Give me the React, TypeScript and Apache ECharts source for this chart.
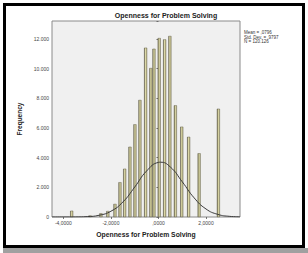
import React, { useEffect, useRef } from "react";
import * as echarts from "echarts";

const binCenters = [-3.65, -2.88, -2.42, -2.13, -1.83, -1.62, -1.42, -1.2, -0.99, -0.78, -0.54, -0.32, -0.19, 0.03, 0.26, 0.48, 0.71, 0.98, 1.27, 1.71, 2.52];
const frequencies = [420, 100, 250, 400, 880, 2340, 3250, 4730, 6240, 7880, 11400, 10030, 11330, 12050, 11960, 12190, 7520, 6080, 5400, 4290, 7290];
const curveX = [-4.48, -4, -3.5, -3, -2.5, -2, -1.5, -1, -0.5, 0, 0.08, 0.5, 1, 1.5, 2, 2.5, 3, 3.43];
const curveY = [0, 1, 5, 27, 116, 389, 1006, 2015, 3098, 3678, 3690, 3366, 2372, 1290, 540, 175, 43, 10];
const xTicks = [-4, -2, 0, 2];
const statLines = ["Mean = ,0796", "Std. Dev. = ,9797", "N = 120.126"];
const titleText = "Openness for Problem Solving";

export default function App() {
  const ref = useRef<HTMLDivElement>(null);
  useEffect(() => {
    document.body.style.margin = "0";
    const chart = echarts.init(ref.current!, null, { renderer: "svg" });
    const fontFamily = "Liberation Sans, Arial, sans-serif";
    chart.setOption({
      animation: false,
      backgroundColor: "#ffffff",
      grid: { left: 52, top: 21, width: 188, height: 196, show: true, backgroundColor: "#f0f0f0", borderColor: "#8a8a8a", borderWidth: 1 },
      xAxis: {
        type: "value",
        min: -4.48,
        max: 3.43,
        name: titleText,
        nameLocation: "middle",
        nameGap: 14,
        nameTextStyle: { fontSize: 6.8, fontWeight: "bold", color: "#222", fontFamily },
        axisLine: { show: false },
        splitLine: { show: false },
        axisTick: { show: true, customValues: xTicks, length: 2, lineStyle: { color: "#555", width: 0.8 } },
        axisLabel: {
          customValues: xTicks,
          fontSize: 5,
          color: "#444",
          margin: 3,
          fontFamily,
          formatter: (v: number) => (v === 0 ? ",0000" : v.toFixed(4).replace(".", ",")),
        },
      },
      yAxis: {
        type: "value",
        min: 0,
        max: 13200,
        interval: 2000,
        name: "Frequency",
        nameLocation: "middle",
        nameGap: 22,
        nameRotate: 90,
        nameTextStyle: { fontSize: 6.5, fontWeight: "bold", color: "#222", fontFamily },
        axisLine: { show: false },
        splitLine: { show: false },
        axisTick: { show: true, length: 2, lineStyle: { color: "#555", width: 0.8 } },
        axisLabel: {
          fontSize: 5,
          color: "#444",
          margin: 3,
          fontFamily,
          formatter: (v: number) => (v === 0 ? "0" : v % 2000 === 0 ? v / 1000 + ".000" : ""),
        },
      },
      series: [
        {
          type: "bar",
          data: binCenters.map((x, i) => [x, frequencies[i]]),
          barWidth: 3,
          itemStyle: {
            color: new echarts.graphic.LinearGradient(0, 0, 1, 0, [
              { offset: 0, color: "#5e5a3e" },
              { offset: 0.45, color: "#dedaa8" },
              { offset: 1, color: "#a5a178" },
            ]),
            borderColor: "#55513a",
            borderWidth: 0.4,
          },
        },
        {
          type: "line",
          data: curveX.map((x, i) => [x, curveY[i]]),
          smooth: true,
          showSymbol: false,
          lineStyle: { color: "#3a3a3a", width: 1 },
          z: 5,
        },
      ],
      graphic: [
        { type: "rect", shape: { x: 4.5, y: 4.5, width: 299, height: 242 }, style: { fill: "none", stroke: "#000", lineWidth: 3 }, z: 100 },
        { type: "rect", shape: { x: 3, y: 248, width: 305, height: 5 }, style: { fill: "#a0a0a0" }, z: 99 },
        {
          type: "text",
          x: 166,
          y: 15,
          style: { text: titleText, fontSize: 7, fontWeight: "bold", fill: "#222", fontFamily, align: "center", verticalAlign: "middle" },
        },
        ...statLines.map((t, i) => ({
          type: "text",
          left: 244,
          top: 30 + i * 4.6,
          style: { text: t, fontSize: 4.5, fill: "#333", fontFamily },
        })),
      ],
    });
    return () => chart.dispose();
  }, []);
  return <div ref={ref} style={{ position: "absolute", left: 0, top: 0, width: 308, height: 253 }} />;
}
